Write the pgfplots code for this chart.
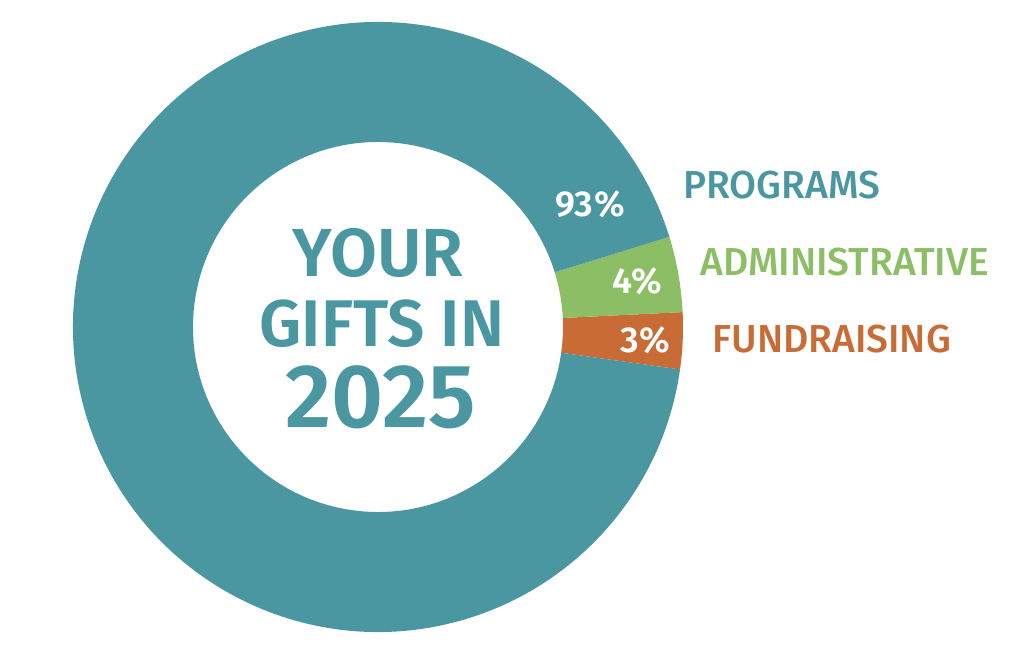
\documentclass[border=0pt]{standalone}
\usepackage{pgfplots}
\pgfplotsset{compat=1.18}
\usepackage{pgfplotstable}
\usepackage{fontspec}
\setmainfont{Fira Sans}[BoldFont={Fira Sans SemiBold}]
\newfontfamily\medium{Fira Sans Medium}

\definecolor{teal}{HTML}{4A97A2}
\definecolor{leaf}{HTML}{8CBE66}
\definecolor{rust}{HTML}{C96B35}

% share of each gift, in percent
\pgfplotstableread{
part value
Fundraising 3
Administrative 4
Programs 93
}\gifts

\pgfplotstablegetelem{0}{value}\of\gifts \let\vfund\pgfplotsretval
\pgfplotstablegetelem{1}{value}\of\gifts \let\vadmin\pgfplotsretval
\pgfplotstablegetelem{2}{value}\of\gifts \let\vprog\pgfplotsretval

% ring sector from angle #1 to #2 in colour #3 (1 axis unit = 0.5pt)
\newcommand\ring[3]{%
  \fill[#3] (axis cs:{378+305*cos(#1)},{325+305*sin(#1)})
    arc[start angle=#1, end angle=#2, radius=152.5pt]
    -- (axis cs:{378+185*cos(#2)},{325+185*sin(#2)})
    arc[start angle=#2, end angle=#1, radius=92.5pt] -- cycle;}

\tikzset{
  pct/.style={text=white, font=\bfseries\fontsize{18}{18}\selectfont\addfontfeatures{LetterSpace=2}},
  lab/.style={anchor=west, inner sep=0pt, font=\medium\fontsize{19.5}{19.5}\selectfont},
  mid/.style={text=teal, font=\bfseries\fontsize{#1}{#1}\selectfont},
}

\begin{document}
\begin{tikzpicture}
\pgfmathsetmacro\aA{-8}
\pgfmathsetmacro\aB{\aA+3.6*\vfund}
\pgfmathsetmacro\aC{\aB+3.6*\vadmin}
\pgfmathsetmacro\aD{\aC+3.6*\vprog}
\begin{axis}[
  width=512pt, height=326pt, scale only axis,
  xmin=0, xmax=1024, ymin=0, ymax=652,
  hide axis, clip=false,
]
\ring{\aA}{\aB}{rust}
\ring{\aB}{\aC}{leaf}
\ring{\aC}{\aD}{teal}

\node[mid=34] at (axis cs:378,399) {YOUR};
\node[mid=33] at (axis cs:382,328) {GIFTS IN};
\node[mid=45] at (axis cs:381,255) {2025};

\node[pct] at (axis cs:590,448) {\vprog\%};
\node[pct] at (axis cs:637,371) {\vadmin\%};
\node[pct] at (axis cs:645,312) {\vfund\%};

\node[lab, text=teal] at (axis cs:683,467) {PROGRAMS};
\node[lab, text=leaf] at (axis cs:700,390) {ADMINISTRATIVE};
\node[lab, text=rust] at (axis cs:712,313) {FUNDRAISING};

\coordinate (SW) at (axis cs:0,0);
\coordinate (NE) at (axis cs:1024,652);
\end{axis}
\pgfresetboundingbox
\path (SW) rectangle (NE);
\end{tikzpicture}
\end{document}
